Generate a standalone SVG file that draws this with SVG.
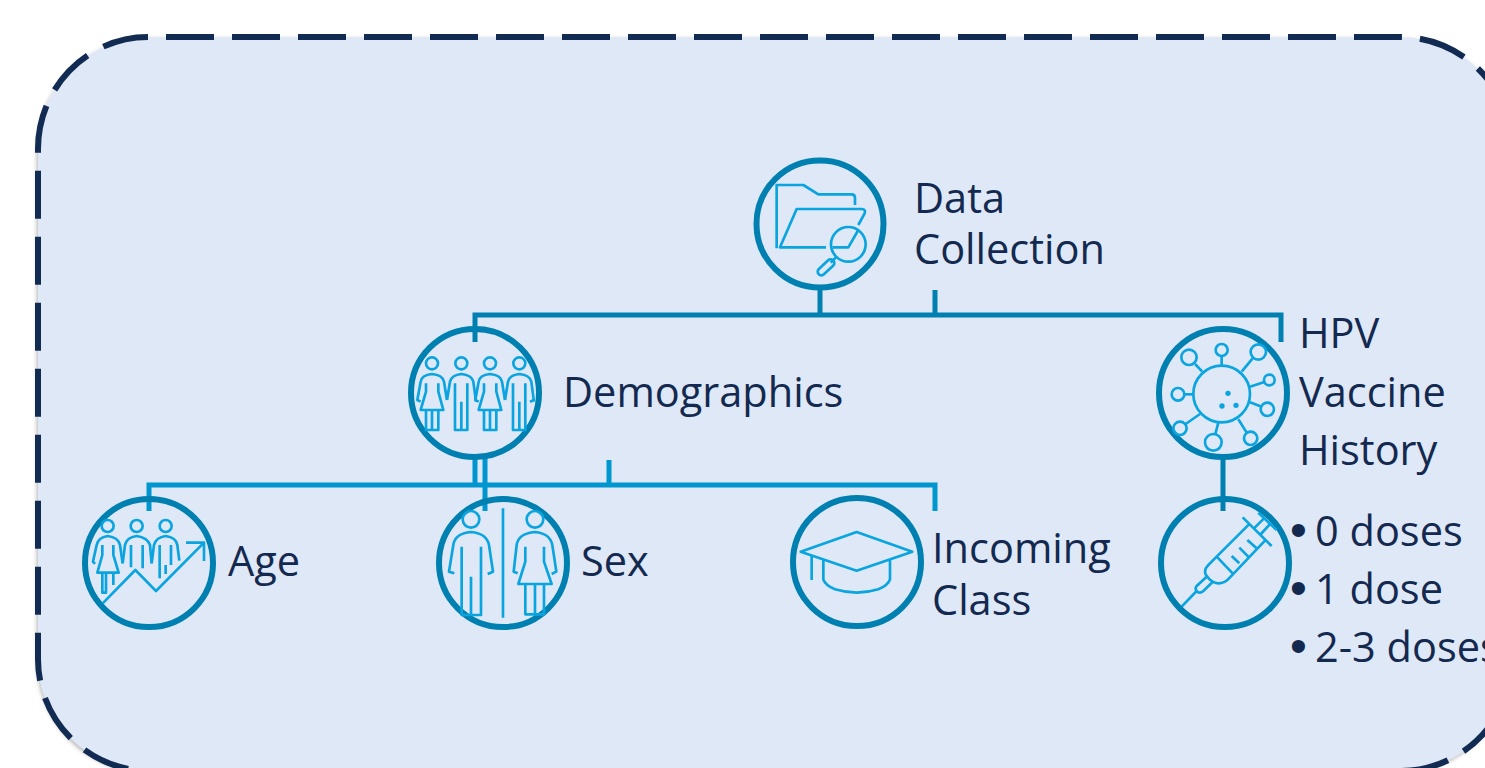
<svg xmlns="http://www.w3.org/2000/svg" width="1485" height="768" viewBox="0 0 1485 768">
<style>
.ring{fill:none;stroke:#0080b0;stroke-width:6}
.ic{fill:none;stroke:#0aa5e0;stroke-width:8;stroke-linejoin:round}
.c1{fill:none;stroke:#0080b0;stroke-width:5}
.c2{fill:none;stroke:#0096d0;stroke-width:5}
.dash{fill:none;stroke:#122b52;stroke-width:6;stroke-dasharray:48 18}
text{font-family:"Open Sans","Noto Sans","Liberation Sans",sans-serif;font-size:41.5px;fill:#14294f}
text.b{font-family:"Liberation Sans",sans-serif;font-size:48px}
</style>
<defs>
<filter id="sh" x="-5%" y="-5%" width="110%" height="110%"><feDropShadow dx="-1" dy="2" stdDeviation="2" flood-color="#000" flood-opacity="0.3"/></filter>
<g id="woman"><circle cx="96" cy="130" r="18"/><path d="M62 245L52 240L62 185Q65 165 96 162Q128 165 132 185L141 240M78 190V215L62 270H130L115 215V190M78 270V330H115V270M96 270V330"/></g>
<g id="man"><circle cx="184" cy="130" r="18"/><path d="M141 240L150 185Q155 165 184 162Q215 165 220 185L228 245M165 190V330H202V190M184 245V330"/></g>
</defs>
<rect id="panel" x="38" y="37" width="1474" height="734" rx="112" fill="#dee8f6" filter="url(#sh)"/>
<g id="outline">
<path class="dash" stroke-dashoffset="-16" d="M150 37H1400A112 112 0 0 1 1512 149V659A112 112 0 0 1 1400 771H150"/>
<path class="dash" stroke-dashoffset="2" d="M148 37A110 112 0 0 0 38 149V659A112 112 0 0 0 150 771"/>
</g>
<g id="connectors">
<path class="c1" d="M820 287V315M935 290V315M475 342V315H1281V342M1223 458V511"/>
<path class="c2" d="M475 458V485M485 458V511M609 460V485M149 511V485H935V511"/>
</g>
<g id="data-collection">
<circle class="ring" cx="820" cy="224" r="63.5"/>
<g class="ic" transform="translate(740 150) scale(.3333)">
<path d="M110 295V105H190L235 133H335Q345 133 345 143V165M258 292H120L170 177H365Q378 177 374 190L355 225M355 240L325 292H278"/>
<circle cx="325" cy="283" r="52"/>
<path d="M272 338L287 323"/>
<rect x="228" y="341" width="60" height="22" rx="11" transform="rotate(-43 258 352)"/>
</g>
<text x="914" y="213">Data</text>
<text x="914" y="264">Collection</text>
</g>
<g id="demographics">
<circle class="ring" cx="475" cy="393" r="64"/>
<g class="ic" transform="translate(400 320) scale(.3333)">
<use href="#woman"/><use href="#man"/><use href="#woman" x="174"/><use href="#man" x="174"/>
<path d="M402 240L390 245"/>
</g>
<text x="563" y="407">Demographics</text>
</g>
<g id="hpv-history">
<circle class="ring" cx="1223" cy="393" r="64"/>
<g class="ic" transform="translate(1150 320) scale(.3333)">
<circle cx="215" cy="222" r="85"/>
<circle cx="215" cy="90" r="18"/><path d="M215 108V135"/>
<circle cx="117" cy="112" r="23"/><path d="M135 132L157 155"/>
<circle cx="325" cy="96" r="23"/><path d="M308 115L275 155"/>
<circle cx="358" cy="180" r="16"/><path d="M343 186L300 200"/>
<circle cx="352" cy="268" r="20"/><path d="M335 260L300 247"/>
<circle cx="302" cy="355" r="20"/><path d="M290 338L265 298"/>
<circle cx="190" cy="367" r="25"/><path d="M196 342L205 308"/>
<circle cx="90" cy="325" r="20"/><path d="M107 312L150 282"/>
<circle cx="84" cy="223" r="19"/><path d="M103 223H130"/>
<g fill="#0aa5e0" stroke="none"><circle cx="234" cy="220" r="8"/><circle cx="216" cy="258" r="8"/><circle cx="258" cy="256" r="8"/></g>
</g>
<text x="1299" y="348">HPV</text>
<text x="1299" y="407">Vaccine</text>
<text x="1299" y="465">History</text>
</g>
<g id="age">
<circle class="ring" cx="149" cy="563" r="64"/>
<g class="ic" transform="translate(70 450) scale(.3333)">
<circle cx="113" cy="228" r="18"/><circle cx="200" cy="228" r="18"/><circle cx="287" cy="228" r="18"/>
<path d="M75 342L69 335L80 285Q85 262 113 258Q145 262 150 285L158 340M97 285V315L82 368H146L130 315V285M97 368V428H108V368M130 368V405"/>
<path d="M158 340L165 285Q170 262 200 258Q232 262 240 285L245 340M183 285V352M218 285V355"/>
<path d="M245 340L252 285Q258 262 287 258Q318 262 322 285L328 332M269 285V385M303 285V345M287 345V372"/>
<path d="M98 460L196 360L258 423L402 278M348 278H402V333"/>
</g>
<text x="228" y="576">Age</text>
</g>
<g id="sex">
<circle class="ring" cx="503" cy="563" r="64"/>
<g class="ic" transform="translate(425 450) scale(.3333)">
<circle cx="138" cy="208" r="25"/><circle cx="330" cy="208" r="25"/>
<path d="M88 370L72 365L85 285Q90 250 138 246Q185 250 192 285L204 365L188 372M110 290V495H168V290M138 380V495M234 175V503"/>
<path d="M278 370L266 365L275 285Q280 250 330 246Q375 250 382 285L394 365L380 372M301 290V335L280 402H380L357 335V290M301 402V493H357V402M330 402V493"/>
</g>
<text x="581" y="576">Sex</text>
</g>
<g id="incoming-class">
<circle class="ring" cx="857" cy="562" r="64"/>
<g class="ic" transform="translate(780 470) scale(.3333)">
<path d="M230 186L397 245L230 302L62 245ZM95 255V330M130 268V328Q135 345 165 358Q230 378 295 358Q325 345 330 328V268"/>
</g>
<text x="932" y="563">Incoming</text>
<text x="932" y="615">Class</text>
</g>
<g id="vaccine-doses">
<circle class="ring" cx="1225" cy="563" r="64"/>
<g class="ic" transform="translate(1150 480) scale(.3333)">
<path d="M95 380L140 333M300 130L200 230L175 255Q160 270 168 285Q185 310 205 310Q225 310 240 292L345 182M278 112L365 198M312 145L345 112M330 165L362 130M325 98L380 150M200 230L248 280M245 228L268 250M268 203L297 232M292 180L320 205M170 290L140 318Q133 328 142 335Q150 342 160 333L187 307"/>
</g>
<text class="b" x="1290" y="546">•</text><text x="1315" y="546">0 doses</text>
<text class="b" x="1290" y="604">•</text><text x="1315" y="604">1 dose</text>
<text class="b" x="1290" y="662">•</text><text x="1315" y="662">2-3 doses</text>
</g>
</svg>
